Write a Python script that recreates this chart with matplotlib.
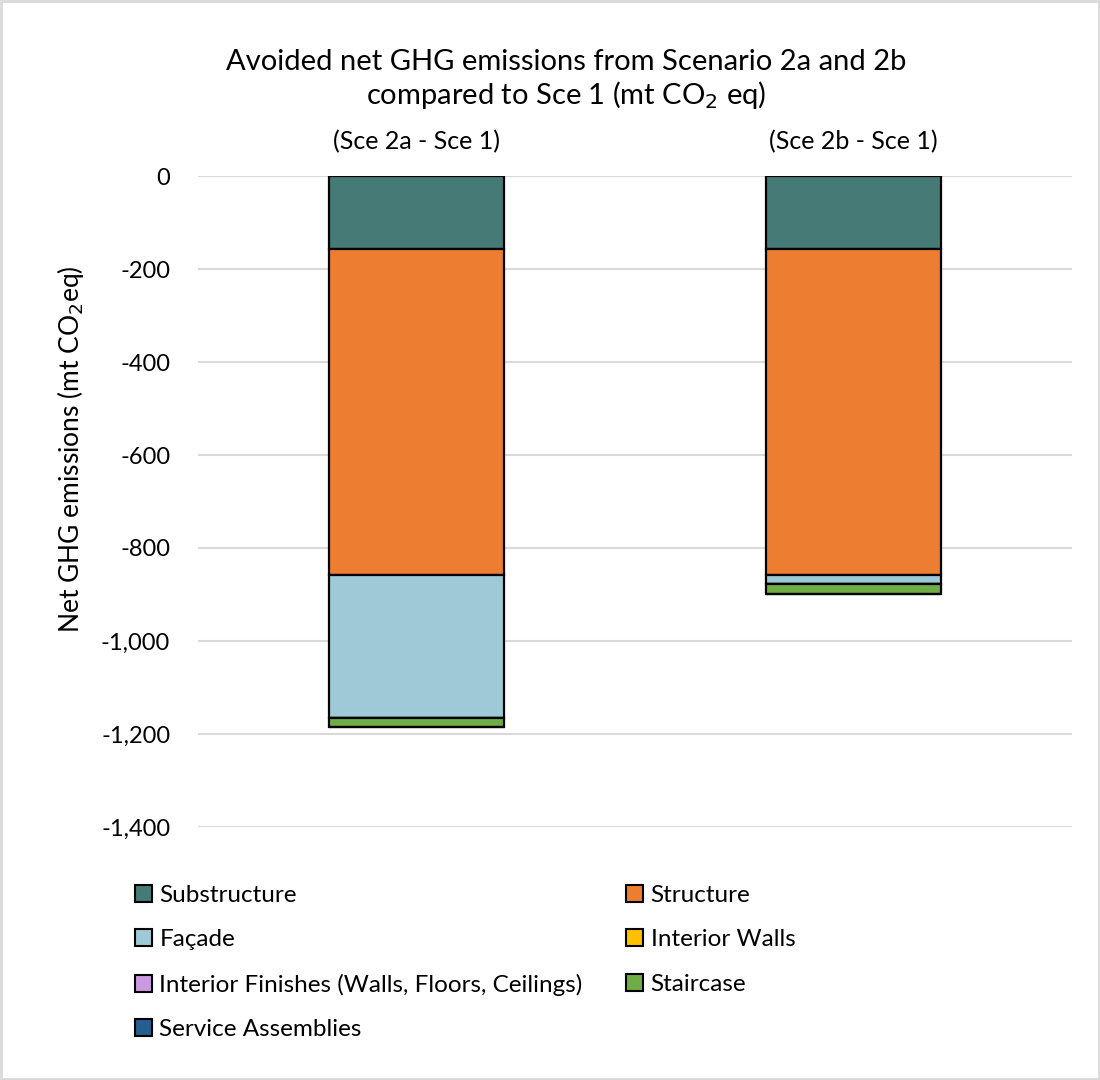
import numpy as np
import matplotlib
matplotlib.use("Agg")
import matplotlib.pyplot as plt
from matplotlib.patches import Patch, Rectangle

plt.rcParams['font.family'] = ['Lato', 'DejaVu Sans']

# avoided emissions per building element (mt CO2 eq)
scenarios = ['(Sce 2a - Sce 1)', '(Sce 2b - Sce 1)']
elements = ['Substructure', 'Structure', 'Façade', 'Interior Walls',
            'Interior Finishes (Walls, Floors, Ceilings)', 'Staircase',
            'Service Assemblies']
substructure = [-157, -157]
structure = [-701, -701]
facade = [-307, -19]
interior_walls = [0, 0]
interior_finishes = [0, 0]
staircase = [-21, -21]
service = [0, 0]

colors = ['#467A76', '#ED7D31', '#9DCAD6', '#FFC000', '#CC99E0', '#70AD47', '#255E91']
series = [substructure, structure, facade, interior_walls,
          interior_finishes, staircase, service]

fig = plt.figure(figsize=(11, 10.8), dpi=100)
ax = fig.add_axes([0.18, 0.2343, 0.7945, 0.6027])

x = np.arange(len(scenarios))
bottom = np.zeros(len(scenarios))
for vals, col, name in zip(series, colors, elements):
    vals = np.array(vals, dtype=float)
    ax.bar(x, vals, width=0.4, bottom=bottom, color=col, edgecolor='black',
           linewidth=1.6, label=name, zorder=3)
    bottom += vals

ax.set_xlim(-0.5, 1.5)
ax.set_ylim(-1400, 0)
ax.set_yticks(np.arange(-1400, 1, 200))
ax.yaxis.set_major_formatter(matplotlib.ticker.FuncFormatter(lambda v, p: f'{v:,.0f}'))
ax.tick_params(axis='y', length=0, labelsize=17, pad=20)
ax.set_xticks([])
ax.grid(axis='y', color='#d9d9d9', linewidth=1.5, zorder=0)
for s in ax.spines.values():
    s.set_visible(False)
ax.set_ylabel('Net GHG emissions (mt CO$_2$eq)', fontsize=19)
ax.yaxis.set_label_coords(-0.128, 0.58)

for xi, lab in zip(x, scenarios):
    ax.text(xi, 1.035, lab, transform=ax.get_xaxis_transform(), ha='center',
            va='bottom', fontsize=18)

fig.text(0.515, 0.897, 'Avoided net GHG emissions from Scenario 2a and 2b\ncompared to Sce 1 (mt CO$_2$ eq)',
         ha='center', va='bottom', fontsize=21, linespacing=1.15)

# legend laid out row by row in two columns
handles = [Patch(facecolor=c, edgecolor='black', linewidth=1.5) for c in colors]
order = [0, 2, 4, 6, 1, 3, 5]
leg = fig.legend([handles[i] for i in order], [elements[i] for i in order],
                 loc='upper left', bbox_to_anchor=(0.114, 0.19), ncol=2,
                 frameon=False, fontsize=17.5, handlelength=0.7, handleheight=0.7,
                 handletextpad=0.3, labelspacing=0.97, columnspacing=1.8,
                 borderaxespad=0)

fig.patches.append(Rectangle((0.001, 0.001), 0.998, 0.998, transform=fig.transFigure,
                             fill=False, edgecolor='#d9d9d9', linewidth=2))

fig.savefig('out.png', dpi=100)
